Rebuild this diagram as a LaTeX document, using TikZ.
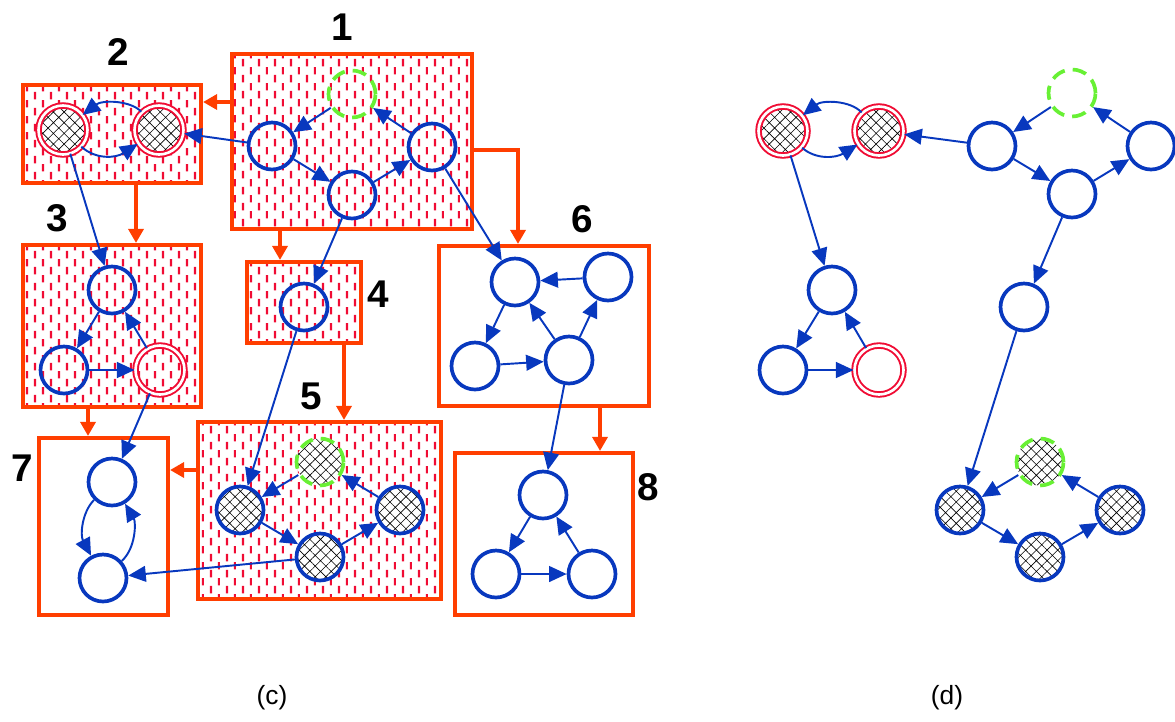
\documentclass[tikz,border=0pt]{standalone}
\usepackage{fontspec}
\setmainfont{Liberation Sans}
\usepackage{tikz}
\usetikzlibrary{positioning, fit, arrows.meta}
\usetikzlibrary{patterns.meta}
\definecolor{stblue}{RGB}{8,56,190}
\definecolor{storange}{RGB}{255,62,0}
\definecolor{stred}{RGB}{240,12,52}
\definecolor{stgreen}{RGB}{104,240,52}

% short vertical red dashes, staggered, as in the shaded boxes
\tikzdeclarepattern{
	name=vdash,
	type=uncolored,
	bottom left={(0pt,0pt)},
	top right={(9.07pt,9.07pt)},
	tile size={(9.07pt,9.07pt)},
	code={
		\pgfsetlinewidth{1.25pt}
		\pgfpathmoveto{\pgfpoint{2.27pt}{0.4pt}}
		\pgfpathlineto{\pgfpoint{2.27pt}{4.6pt}}
		\pgfpathmoveto{\pgfpoint{6.8pt}{4.9pt}}
		\pgfpathlineto{\pgfpoint{6.8pt}{9.07pt}}
		\pgfusepath{stroke}
	}
}

\begin{document}
\begin{tikzpicture}[x=0.02cm, y=-0.02cm,
		st/.style={circle, draw=stblue, line width=2.1pt, minimum size=0.94cm, inner sep=0pt},
		hit/.style={st, draw=stred, double=white, line width=1.1pt, double distance=1.5pt, minimum size=0.98cm},
		goal/.style={st, draw=stgreen, dash pattern=on 8pt off 4.6pt},
		xh/.style={preaction={fill=white}, pattern={Hatch[angle=45,distance=4.3pt,line width=0.35pt]}},
		tr/.style={draw=stblue, line width=1.1pt, -{Triangle[length=10pt,width=9pt]}},
		flow/.style={draw=storange, line width=2.3pt, -{Triangle[length=8pt,width=8.5pt]}},
		blk/.style={rectangle, draw=storange, line width=2.3pt, inner sep=0pt},
		hatched/.style={pattern=vdash, pattern color=stred},
		lbl/.style={font=\fontsize{22}{26}\selectfont\bfseries},
		captext/.style={font=\fontsize{15}{18}\selectfont}
		]
		\useasboundingbox (0,0) rectangle (1175,721);
		
		% boxes of part (c)
		\node[blk, hatched, fit={(232,54) (472,229)}] (b1) {};
		\node[blk, hatched, fit={(23,85) (201,183)}] (b2) {};
		\node[blk, hatched, fit={(23,245) (201,407)}] (b3) {};
		\node[blk, hatched, fit={(247,262) (361,343)}] (b4) {};
		\node[blk, hatched, fit={(198,422) (441,599)}] (b5) {};
		\node[blk, fit={(439,246) (649,406)}] (b6) {};
		\node[blk, fit={(39,438) (168,615)}] (b7) {};
		\node[blk, fit={(455,453) (633,615)}] (b8) {};
		
		\node[lbl] (lab1) at (342,27) {1};
		\node[lbl] (lab2) at (118,52) {2};
		\node[lbl] (lab3) at (57,218) {3};
		\node[lbl] (lab4) at (378,294) {4};
		\node[lbl] (lab5) at (311,396) {5};
		\node[lbl] (lab6) at (582,219) {6};
		\node[lbl] (lab7) at (22,468) {7};
		\node[lbl] (lab8) at (648,487) {8};
		
		% orange flow between boxes
		\draw[flow] (b1.west |- 0,102) -- (b2.east |- 0,102);
		\draw[flow] (b2.south -| 136,0) -- (b3.north -| 136,0);
		\draw[flow] (b1.south -| 280,0) -- (b4.north -| 280,0);
		\draw[flow] (b1.east |- 0,150) -| (b6.north -| 518,0);
		\draw[flow] (b3.south -| 88,0) -- (b7.north -| 88,0);
		\draw[flow] (b4.south -| 344,0) -- (b5.north -| 344,0);
		\draw[flow] (b5.west |- 0,470) -- (b7.east |- 0,470);
		\draw[flow] (b6.south -| 600,0) -- (b8.north -| 600,0);
		
		% states in part (c)
		\foreach \nm/\x/\y in {n1a/272/146, n1b/352/195, n1c/432/147, n3a/112/290, n3b/64/370,
			n4a/304/307, n6a/515/282, n6b/608/277, n6c/475/366, n6d/569/360,
			n7a/112/482, n7b/103/578, n8a/543/495, n8b/496/574, n8c/592/574}
		\node[st] (\nm) at (\x,\y) {};
		\node[goal] (n1g) at (352,94) {};
		\node[hit, xh] (n2a) at (63,130) {};
		\node[hit, xh] (n2b) at (159,130) {};
		\node[hit] (n3c) at (160,370) {};
		\node[goal, xh] (n5g) at (320,462) {};
		\foreach \nm/\x/\y in {n5a/240/510, n5b/320/557, n5c/400/510}
		\node[st, xh] (\nm) at (\x,\y) {};
		
		\foreach \a/\b in {n1g/n1a, n1a/n1b, n1b/n1c, n1c/n1g, n1a/n2b, n2a/n3a, n1b/n4a, n1c/n6a,
			n3a/n3b, n3b/n3c, n3c/n3a, n3c/n7a, n4a/n5a, n5g/n5a, n5a/n5b, n5b/n5c, n5c/n5g,
			n5b/n7b, n6b/n6a, n6a/n6c, n6c/n6d, n6d/n6a, n6d/n6b, n6d/n8a, n8a/n8b, n8b/n8c, n8c/n8a}
		\draw[tr] (\a) -- (\b);
		\draw[tr] (n2b) .. controls (130,100) and (102,100) .. (n2a);
		\draw[tr] (n2a) .. controls (96,160) and (116,158) .. (n2b);
		\draw[tr] (n7a) .. controls (82,512) and (80,535) .. (n7b);
		\draw[tr] (n7b) .. controls (136,548) and (136,522) .. (n7a);
		
		% part (d)
		\foreach \nm/\x/\y in {d1a/992/146, d1b/1072/194, d1c/1151/146, d4a/1024/307,
			d3a/832/290, d3b/783/370}
		\node[st] (\nm) at (\x,\y) {};
		\node[goal] (d1g) at (1072,93) {};
		\node[hit, xh] (d2a) at (783,131) {};
		\node[hit, xh] (d2b) at (879,131) {};
		\node[hit] (d3c) at (879,370) {};
		\node[goal, xh] (d5g) at (1040,462) {};
		\foreach \nm/\x/\y in {d5a/960/510, d5b/1040/557, d5c/1120/510}
		\node[st, xh] (\nm) at (\x,\y) {};
		
		\foreach \a/\b in {d1g/d1a, d1a/d1b, d1b/d1c, d1c/d1g, d1a/d2b, d2a/d3a, d3a/d3b, d3b/d3c,
			d3c/d3a, d1b/d4a, d4a/d5a, d5g/d5a, d5a/d5b, d5b/d5c, d5c/d5g}
		\draw[tr] (\a) -- (\b);
		\draw[tr] (d2b) .. controls (850,100) and (822,100) .. (d2a);
		\draw[tr] (d2a) .. controls (816,160) and (836,158) .. (d2b);
		
		\node[captext] (capc) at (272,698) {(c)};
		\node[captext] (capd) at (947,698) {(d)};
\end{tikzpicture}
\end{document}
